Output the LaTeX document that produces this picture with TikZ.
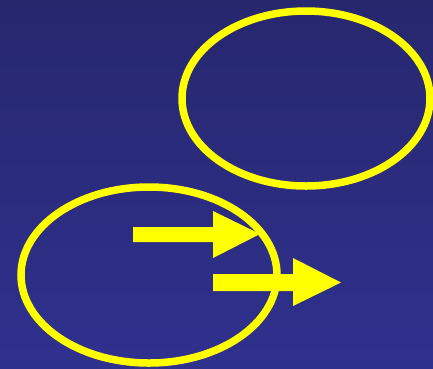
\documentclass[tikz,border=0pt]{standalone}
\definecolor{bgtop}{RGB}{39,39,110}
\definecolor{bgbot}{RGB}{47,49,142}
\definecolor{hilite}{RGB}{255,255,0}
\tikzset{
  ring/.style={draw=hilite, line width=7.5pt},
  fatarrow/.style={fill=hilite, draw=none}
}
\begin{document}
\begin{tikzpicture}[x=1pt,y=-1pt]
\useasboundingbox (0,0) rectangle (433,368);
\clip (0,0) rectangle (433,368);
\shade[top color=bgtop, bottom color=bgbot] (0,0) rectangle (433,368);
% arrows
\fill[fatarrow] (133,227) -- (213,227) -- (213,211) -- (260,234) -- (213,258) -- (213,242) -- (133,242) -- cycle;
\fill[fatarrow] (213,274) -- (293,274) -- (293,258) -- (341,282.5) -- (293,306) -- (293,291) -- (213,291) -- cycle;
% ellipses
\draw[ring] (306,98.5) ellipse (124 and 87.5);
\draw[ring] (149,275) ellipse (128 and 88);
\end{tikzpicture}
\end{document}
